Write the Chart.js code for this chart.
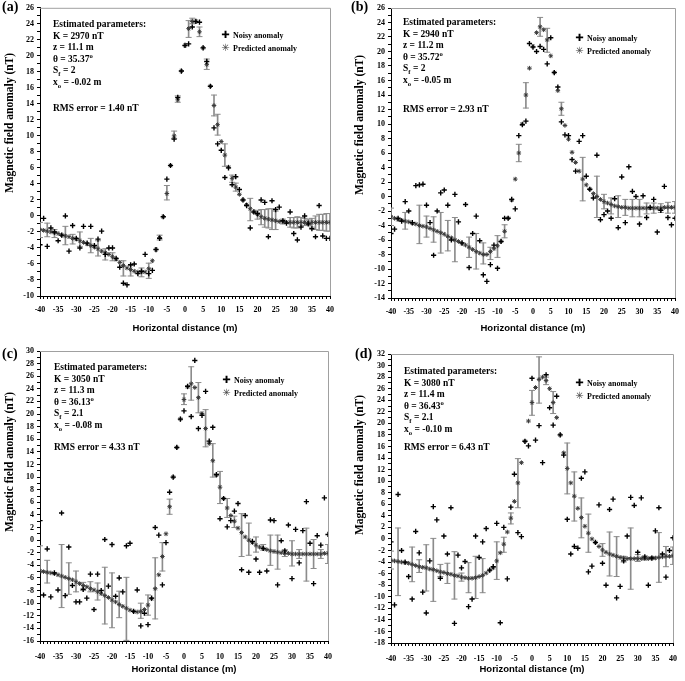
<!DOCTYPE html>
<html>
<head>
<meta charset="utf-8">
<script src="https://cdn.jsdelivr.net/npm/chart.js@4.4.1/dist/chart.umd.min.js"></script>
<style>
  body { margin: 0; background: #fff; width: 685px; height: 681px; position: relative; overflow: hidden; }
  canvas { position: absolute; }
  .lbl { position: absolute; font: bold 14px "Liberation Serif", serif; line-height: 14px; }
  .par { position: absolute; font: bold 9.5px "Liberation Serif", serif; line-height: 11.5px; white-space: nowrap; }
  .leg { position: absolute; font: bold 8px "Liberation Serif", serif; line-height: 12px; white-space: nowrap; }
  .sym { display: inline-block; width: 11px; font-family: "DejaVu Sans", sans-serif; font-size: 10px; text-align: center; }
  .ytitle { position: absolute; font: bold 11.5px "Liberation Serif", serif; white-space: nowrap; transform: translate(-50%, -50%) rotate(-90deg); }
  sub, sup { font-size: 70%; line-height: 0; }
</style>
</head>
<body>

<canvas id="chartA" width="340" height="335" style="left:0;top:0"></canvas>
<canvas id="chartB" width="345" height="335" style="left:340px;top:0"></canvas>
<canvas id="chartC" width="340" height="346" style="left:0;top:335px"></canvas>
<canvas id="chartD" width="345" height="346" style="left:340px;top:335px"></canvas>

<div class="lbl" style="left:2px;top:0">(a)</div>
<div class="lbl" style="left:351px;top:0">(b)</div>
<div class="lbl" style="left:2px;top:347px">(c)</div>
<div class="lbl" style="left:355px;top:347px">(d)</div>

<div class="ytitle" style="left:9px;top:123px">Magnetic field anomaly (nT)</div>
<div class="ytitle" style="left:359px;top:125px">Magnetic field anomaly (nT)</div>
<div class="ytitle" style="left:9px;top:462px">Magnetic field anomaly (nT)</div>
<div class="ytitle" style="left:359px;top:465px">Magnetic field anomaly (nT)</div>

<div class="par" style="left:53px;top:19px">Estimated parameters:<br>K = 2970 nT<br>z = 11.1 m<br>θ = 35.37<sup>o</sup><br>S<sub>f</sub> = 2<br>x<sub>o</sub> = -0.02 m</div>
<div class="par" style="left:53px;top:103px">RMS error = 1.40 nT</div>
<div class="par" style="left:403px;top:17px">Estimated parameters:<br>K = 2940 nT<br>z = 11.2 m<br>θ = 35.72<sup>o</sup><br>S<sub>f</sub> = 2<br>x<sub>o</sub> = -0.05 m</div>
<div class="par" style="left:403px;top:104px">RMS error = 2.93 nT</div>
<div class="par" style="left:54px;top:362px">Estimated parameters:<br>K = 3050 nT<br>z = 11.3 m<br>θ = 36.13<sup>o</sup><br>S<sub>f</sub> = 2.1<br>x<sub>o</sub> = -0.08 m</div>
<div class="par" style="left:54px;top:442px">RMS error = 4.33 nT</div>
<div class="par" style="left:404px;top:366px">Estimated parameters:<br>K = 3080 nT<br>z = 11.4 m<br>θ = 36.43<sup>o</sup><br>S<sub>f</sub> = 2.1<br>x<sub>o</sub> = -0.10 m</div>
<div class="par" style="left:404px;top:442px">RMS error = 6.43 nT</div>

<div class="leg" style="left:220px;top:29px"><span class="sym">✚</span> Noisy anomaly<br><span class="sym" style="color:#444">✳</span> Predicted anomaly</div>
<div class="leg" style="left:574px;top:32px"><span class="sym">✚</span> Noisy anomaly<br><span class="sym" style="color:#444">✳</span> Predicted anomaly</div>
<div class="leg" style="left:221px;top:374px"><span class="sym">✚</span> Noisy anomaly<br><span class="sym" style="color:#444">✳</span> Predicted anomaly</div>
<div class="leg" style="left:574px;top:377px"><span class="sym">✚</span> Noisy anomaly<br><span class="sym" style="color:#444">✳</span> Predicted anomaly</div>

<script>
// horizontal distance (m)
const xs = [-40,-39,-38,-37,-36,-35,-34,-33,-32,-31,
  -30,-29,-28,-27,-26,-25,-24,-23,-22,-21,
  -20,-19,-18,-17,-16,-15,-14,-13,-12,-11,
  -10,-9,-8,-7,-6,-5,-4,-3,-2,-1,
  0,1,2,3,4,5,6,7,8,9,
  10,11,12,13,14,15,16,17,18,19,
  20,21,22,23,24,25,26,27,28,29,
  30,31,32,33,34,35,36,37,38,39,40];

// (a)
const predA = [-1.7,-1.8,-1.9,-2.0,-2.1,-2.2,-2.4,-2.5,-2.6,-2.8,
  -2.9,-3.1,-3.3,-3.5,-3.7,-3.9,-4.1,-4.4,-4.6,-4.8,
  -5.1,-5.4,-5.8,-6.2,-6.5,-6.7,-6.9,-7.0,-7.0,-7.0,
  -6.6,-5.6,-4.2,-2.7,-0.1,2.8,6.3,10.0,14.5,18.1,
  21.3,23.4,24.3,24.3,23.0,21.0,18.9,16.2,13.8,11.4,
  9.3,7.6,6.1,4.7,3.6,2.7,2.0,1.4,0.9,0.5,
  0.2,-0.1,-0.3,-0.4,-0.5,-0.6,-0.7,-0.7,-0.8,-0.8,
  -0.8,-0.8,-0.8,-0.8,-0.8,-0.8,-0.8,-0.8,-0.8,-0.8,-0.8];
const noisyA = [-3.6,-0.3,-3.8,-1.5,-2.0,-3.1,-2.4,0.0,-4.4,-1.2,
  -2.8,-4.0,-1.3,-3.4,-1.3,-3.7,-2.9,-1.9,-4.8,-4.0,
  -4.0,-5.3,-6.4,-8.4,-8.6,-6.1,-6.0,-7.2,-6.9,-4.8,
  -7.2,-6.8,-4.2,-2.8,-0.1,4.6,6.3,9.6,14.8,18.1,
  21.3,21.5,23.6,24.3,24.2,21.0,19.3,16.2,11.0,9.0,
  8.2,4.8,6.0,3.9,4.9,3.3,2.0,1.3,-1.5,0.5,
  0.3,2.0,1.7,-2.6,1.9,0.8,1.1,-0.6,-0.9,0.5,
  -2.2,-3.0,-1.4,0.0,-1.0,-1.6,-2.6,1.3,-2.5,-2.8,-2.8];
const errXA = [-40,-38,-36,-33,-31,-29,-26,-24,-22,-20,-17,-15,-12,-10,-7,-5,-3,-2,1,2,4,6,8,9,11,13,14,18,20,21,22,23,24,25,27,29,30,31,32,33,34,35,36,37,38,39,40];
const errLoA = [-2.7,-2.6,-2.7,-3.6,-3.5,-3.8,-4.6,-5.0,-5.5,-5.6,-7.5,-7.5,-7.6,-7.8,-3.0,2.0,9.7,14.2,22.3,24.0,22.4,18.3,12.5,10.1,6.2,4.2,3.1,-0.6,-0.4,-1.1,-1.4,-1.5,-1.7,-1.7,-1.0,-1.4,-1.5,-1.5,-1.3,-1.2,-1.2,-1.4,-1.7,-1.8,-1.8,-1.9,-1.9];
const errHiA = [-0.8,-0.9,-1.7,-1.3,-2.3,-2.0,-2.8,-3.1,-4.1,-4.6,-5.6,-6.2,-6.5,-5.9,-2.4,3.8,10.6,15.0,24.4,24.7,23.6,19.6,15.1,12.7,9.0,5.1,4.1,2.2,0.7,0.8,0.8,0.9,0.9,0.6,-0.4,-0.2,-0.2,-0.1,-0.2,-0.3,-0.4,-0.3,0.0,0.2,0.2,0.3,0.3];

// (b)
const predB = [-2.8,-3.0,-3.2,-3.3,-3.4,-3.5,-3.7,-3.8,-4.0,-4.1,
  -4.2,-4.4,-4.6,-4.8,-5.0,-5.2,-5.5,-5.7,-6.0,-6.2,
  -6.5,-6.7,-7.0,-7.3,-7.6,-7.8,-8.0,-8.0,-7.6,-7.2,
  -6.8,-6.2,-4.8,-3.0,-0.5,2.4,6.0,10.0,14.0,17.7,
  20.7,22.6,23.4,23.0,21.6,19.4,17.1,14.6,12.1,9.8,
  7.9,6.1,4.7,3.5,2.4,1.6,1.0,0.4,0.0,-0.4,
  -0.7,-0.9,-1.1,-1.3,-1.4,-1.5,-1.5,-1.6,-1.6,-1.6,
  -1.6,-1.6,-1.6,-1.6,-1.6,-1.6,-1.6,-1.5,-1.5,-1.5,-1.5];
const noisyB = [-5.1,-4.5,-3.0,-3.4,-0.7,-2.0,-3.6,1.5,1.6,1.7,
  -1.2,-3.6,-8.1,-2.0,0.5,0.9,-1.2,-6.0,0.3,-3.5,
  -6.4,-1.1,-9.8,-5.1,-2.7,-6.1,-10.8,-11.7,-9.4,-6.7,
  -9.9,-6.2,-3.0,-3.0,-0.4,-1.7,8.4,9.9,10.4,21.1,
  20.6,20.0,20.7,20.3,18.3,21.9,17.1,15.1,10.3,8.5,
  8.4,5.1,3.5,7.6,8.4,2.8,1.0,-0.2,5.7,-3.2,
  -2.5,-2.0,-3.0,-0.3,-4.3,2.7,-3.6,4.1,0.7,0.0,
  -3.8,0.1,-2.9,-1.5,-0.4,-4.9,-1.9,1.4,-2.9,-3.9,-3.0];
const errXB = [-40,-36,-32,-30,-28,-26,-24,-22,-18,-16,-14,-12,-10,-8,-4,-2,2,4,8,14,18,20,22,24,26,28,30,32,34,36,38,40];
const errLoB = [-4.0,-4.5,-6.5,-5.6,-6.3,-7.8,-7.5,-9.0,-8.4,-10.0,-9.3,-8.7,-8.4,-5.7,4.8,12.2,22.1,19.9,11.2,-0.6,-2.9,-1.7,-2.4,-2.9,-2.6,-2.8,-2.8,-2.4,-2.3,-2.2,-2.3,-2.3];
const errHiB = [-1.6,-2.2,-1.2,-2.7,-2.8,-2.2,-3.3,-2.9,-5.6,-5.1,-6.4,-7.0,-5.4,-3.9,7.2,15.7,24.7,23.2,13.0,5.4,2.8,0.3,-0.2,0.1,-0.4,-0.4,-0.4,-0.9,-0.9,-1.0,-0.8,-0.7];

// (c)
const predC = [-4.9,-5.0,-5.1,-5.2,-5.3,-5.5,-5.7,-5.9,-6.1,-6.3,
  -6.6,-6.9,-7.2,-7.4,-7.7,-7.9,-8.2,-8.5,-8.8,-9.1,
  -9.5,-9.8,-10.2,-10.5,-10.8,-11.1,-11.3,-11.4,-11.3,-11.0,
  -10.3,-9.3,-7.7,-5.5,-2.6,1.0,5.3,10.0,14.7,19.2,
  22.3,24.3,24.8,24.2,22.6,20.1,17.7,15.3,12.6,10.3,
  8.4,6.6,5.1,3.9,3.0,1.9,1.2,0.5,0.0,-0.4,
  -0.8,-1.1,-1.3,-1.5,-1.7,-1.8,-1.9,-2.0,-2.1,-2.1,
  -2.2,-2.2,-2.2,-2.2,-2.2,-2.2,-2.2,-2.2,-2.2,-2.1,-2.1];
const noisyC = [3.1,-8.7,-1.4,-9.0,-5.2,-7.9,4.3,-8.8,-1.1,-7.2,
  -9.8,-9.8,-7.8,-9.2,-5.4,-11.0,-5.4,-8.0,0.1,-7.3,
  -0.7,-8.9,-6.0,-8.2,-0.9,-0.5,-11.3,-7.9,-13.6,-11.6,
  -13.4,-9.2,2.0,0.8,-7.1,-0.4,7.6,10.0,14.7,19.2,
  20.5,24.4,19.6,28.5,17.7,19.8,23.6,15.7,17.9,10.4,
  3.4,6.6,2.1,3.1,4.6,5.8,-4.7,3.9,-5.1,-0.2,
  -3.0,-5.1,-1.3,-4.9,3.2,3.1,-7.1,-0.1,-1.7,2.4,
  -6.1,1.7,-3.6,1.5,6.1,-0.5,-6.9,0.7,-0.8,6.7,0.9];
const errXC = [-40,-38,-34,-32,-30,-28,-26,-24,-22,-20,-18,-16,-12,-10,-8,-6,-4,0,2,4,6,8,10,12,14,16,18,20,22,24,26,28,30,32,34,36,38,40];
const errLoC = [-5.0,-6.8,-10.7,-8.6,-8.2,-8.0,-8.2,-9.5,-13.3,-13.9,-12.3,-15.9,-12.4,-11.9,-12.5,-4.9,4.1,21.5,22.2,20.2,14.8,10.0,5.8,3.6,2.0,-2.6,-2.4,-1.9,-1.6,-4.0,-4.6,-2.6,-4.1,-2.9,-6.5,-4.5,-2.9,-3.7];
const errHiC = [-0.9,-3.2,-0.7,-3.6,-4.9,-6.7,-6.6,-6.8,-4.3,-5.2,-8.1,-5.9,-10.0,-8.7,-2.8,-0.4,6.5,23.2,27.5,25.0,20.7,15.3,10.9,6.6,3.8,4.2,2.7,0.5,-0.7,0.8,0.8,-1.5,-0.1,-1.5,1.9,0.1,-1.5,-0.7];

// (d)
const predD = [-3.7,-3.8,-3.9,-4.0,-4.1,-4.2,-4.4,-4.6,-4.8,-4.9,
  -5.0,-5.2,-5.3,-5.5,-5.7,-5.8,-6.0,-6.1,-6.3,-6.4,
  -6.6,-6.7,-6.8,-6.8,-6.7,-6.5,-6.3,-5.9,-5.4,-5.0,
  -3.8,-2.4,-0.9,1.2,3.6,6.5,9.7,13.2,16.9,20.4,
  23.6,26.2,27.6,28.0,27.4,26.0,23.6,21.0,18.0,14.9,
  12.2,9.7,7.4,5.3,3.7,2.2,1.0,0.0,-0.6,-1.3,
  -1.9,-2.3,-2.6,-2.8,-3.0,-3.2,-3.3,-3.4,-3.4,-3.4,
  -3.4,-3.4,-3.4,-3.4,-3.3,-3.3,-3.2,-3.1,-3.0,-3.0,-2.9];
const noisyD = [-0.5,-11.4,7.7,-2.0,-4.0,-6.5,-10.4,1.3,-2.4,-9.2,
  -12.8,-3.8,5.6,3.3,-6.8,0.5,-2.6,5.4,-14.6,-2.8,
  -5.0,-3.9,-11.7,-10.4,0.5,-3.2,-0.5,1.8,-5.4,-4.8,
  2.7,-14.5,2.0,-6.9,5.5,11.2,1.1,0.4,16.9,16.1,
  27.8,17.1,19.6,13.2,28.4,22.7,19.7,24.7,18.0,14.5,
  3.4,-2.6,-1.3,-1.6,10.5,11.6,-5.7,-4.7,-0.6,5.9,
  -4.2,-8.0,5.1,6.9,-10.2,-8.2,-3.8,0.5,7.2,5.8,
  -2.3,7.1,-3.1,-8.0,-3.3,1.4,5.4,-2.6,-6.6,-2.0,0.2];
const errXD = [-40,-38,-34,-32,-30,-28,-26,-24,-22,-20,-18,-16,-14,-10,-8,-6,-4,0,2,4,6,10,12,14,16,20,22,24,26,28,30,32,34,36,38,40];
const errLoD = [-5.2,-9.8,-7.4,-5.8,-9.0,-10.8,-6.5,-7.7,-10.4,-7.3,-9.3,-10.3,-9.3,-7.0,-2.3,2.6,5.4,21.4,23.5,26.7,21.7,7.8,3.1,0.2,-2.3,-3.0,-6.4,-6.5,-4.0,-8.7,-3.9,-3.6,-3.5,-7.5,-4.8,-4.4];
const errHiD = [-2.1,1.9,-1.4,-3.6,-1.0,0.1,-4.4,-4.2,-2.2,-5.9,-4.1,-3.0,-3.4,-0.5,0.3,4.5,13.9,25.7,31.5,28.0,25.5,16.6,11.6,7.1,4.3,-0.8,1.2,0.4,-3.0,1.9,-2.7,-2.9,-3.1,1.1,-1.3,-1.4];

const tickFont = { family: '"Liberation Serif", serif', weight: "bold", size: 8 };

// grey frame on top and right of the plot area
const framePlugin = {
  id: "frame",
  afterDraw(chart) {
    const a = chart.chartArea;
    const c = chart.ctx;
    c.save();
    c.strokeStyle = "#a0a0a0";
    c.lineWidth = 1;
    c.beginPath();
    c.moveTo(a.left, a.top + 0.5);
    c.lineTo(a.right + 0.5, a.top + 0.5);
    c.lineTo(a.right + 0.5, a.bottom);
    c.stroke();
    c.restore();
  }
};

function makePanel(id, pred, noisy, errX, errLo, errHi, yMin, yMax, lay) {
  let predPts = [];
  let noisyPts = [];
  for (let i = 0; i < xs.length; i++) {
    predPts.push({ x: xs[i], y: pred[i] });
    noisyPts.push({ x: xs[i], y: noisy[i] });
  }
  // error bars: floating bars + caps
  let bars = [];
  let caps = [];
  for (let i = 0; i < errX.length; i++) {
    bars.push({ x: errX[i], y: [errLo[i], errHi[i]] });
    caps.push({ x: errX[i], y: errLo[i] });
    caps.push({ x: errX[i], y: errHi[i] });
  }

  let ctx = document.getElementById(id).getContext("2d");
  new Chart(ctx, {
    type: "scatter",
    data: {
      datasets: [
        { type: "bar", data: bars, backgroundColor: "#8c8c8c", barThickness: 1, order: 4 },
        { data: caps, pointStyle: "line", pointRadius: 3, borderColor: "#8c8c8c", borderWidth: 1, order: 3 },
        { data: predPts, pointStyle: "star", pointRadius: 2.3, borderColor: "#3a3a3a", borderWidth: 1, order: 2 },
        { data: noisyPts, pointStyle: "cross", pointRadius: 2.6, borderColor: "#000", borderWidth: 1.4, order: 1 },
      ],
    },
    options: {
      responsive: false,
      animation: false,
      devicePixelRatio: 1,
      layout: { padding: { left: lay.padL, top: lay.padT, right: lay.padR, bottom: 0 } },
      plugins: { legend: { display: false }, tooltip: { enabled: false } },
      scales: {
        x: {
          type: "linear",
          min: -40,
          max: 40,
          offset: false,
          grid: { display: true, drawOnChartArea: false, offset: false, tickLength: 3, tickColor: "#000" },
          border: { color: "#000", width: 1 },
          ticks: {
            stepSize: 1,
            maxTicksLimit: 200,
            autoSkip: false,
            maxRotation: 0,
            padding: lay.xPad,
            color: "#000",
            font: tickFont,
            callback: (v) => (v % 5 === 0 ? v : ""),
          },
          title: {
            display: true,
            text: "Horizontal distance (m)",
            color: "#000",
            font: { family: '"Liberation Sans", Arial, sans-serif', weight: "bold", size: 9.5 },
            padding: { top: 0, bottom: lay.titlePad },
          },
          afterFit: (s) => { s.height = lay.xH; },
        },
        y: {
          type: "linear",
          min: yMin,
          max: yMax,
          beginAtZero: false,
          grid: { display: true, drawOnChartArea: false, tickLength: 3, tickColor: "#000" },
          border: { color: "#000", width: 1 },
          ticks: {
            stepSize: 1,
            maxTicksLimit: 200,
            autoSkip: false,
            padding: 3,
            color: "#000",
            font: tickFont,
            callback: (v) => (v % 2 === 0 ? v : ""),
          },
          // axis title is drawn as rotated html text (placed off-centre like the original)
          title: { display: false },
          afterFit: (s) => { s.width = lay.yW; },
        },
      },
    },
    plugins: [framePlugin],
  });
}

makePanel("chartA", predA, noisyA, errXA, errLoA, errHiA, -10, 26,
  { padL: 0, padT: 7, padR: 10, yW: 40, xH: 39, xPad: 6, titlePad: 1 });
makePanel("chartB", predB, noisyB, errXB, errLoB, errHiB, -14, 26,
  { padL: 9, padT: 8, padR: 5, yW: 42, xH: 37, xPad: 6, titlePad: 1 });
makePanel("chartC", predC, noisyC, errXC, errLoC, errHiC, -16, 30,
  { padL: 0, padT: 16, padR: 10, yW: 40, xH: 40, xPad: 8, titlePad: 6 });
makePanel("chartD", predD, noisyD, errXD, errLoD, errHiD, -18, 32,
  { padL: 9, padT: 19, padR: 5, yW: 42, xH: 38, xPad: 8, titlePad: 6 });
</script>
</body>
</html>
